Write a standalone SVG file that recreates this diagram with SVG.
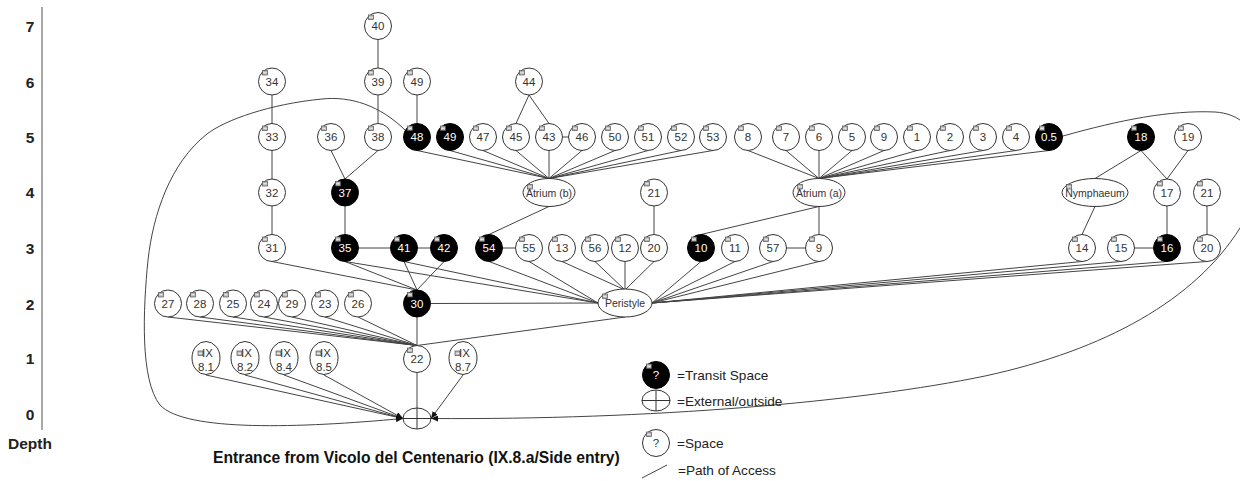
<svg xmlns="http://www.w3.org/2000/svg" xmlns:xlink="http://www.w3.org/1999/xlink" width="1240" height="481" viewBox="0 0 1240 481">
<style>
  .sp{fill:#fff;stroke:#333;stroke-width:1}
  .tr{fill:#000;stroke:#000;stroke-width:1}
  .lb{font-family:"Liberation Sans",Arial,sans-serif;font-size:11.5px;fill:#333;text-anchor:middle}
  .lw{font-family:"Liberation Sans",Arial,sans-serif;font-size:11.5px;fill:#fff;text-anchor:middle}
  .el{font-family:"Liberation Sans",Arial,sans-serif;font-size:10.5px;fill:#333;text-anchor:middle}
  .depth{font-family:"Liberation Sans",Arial,sans-serif;font-size:15.5px;font-weight:bold;fill:#222;text-anchor:middle}
  .leg{font-family:"Liberation Sans",Arial,sans-serif;font-size:13.6px;fill:#222}
  .title{font-family:"Liberation Sans",Arial,sans-serif;font-size:15.7px;font-weight:bold;fill:#111}
  .cn line,.cn path{stroke:#444;stroke-width:1;fill:none}
  .arr{marker-end:url(#ah)}
  .ext{fill:#fff;stroke:#333;stroke-width:1}
  .xl{stroke:#333;stroke-width:1}
</style>
<defs>
  <marker id="ah" markerUnits="userSpaceOnUse" markerWidth="8" markerHeight="6" refX="7" refY="3" orient="auto">
    <path d="M0,0 L7,3 L0,6 z" fill="#111"/>
  </marker>
  <!-- small collapse handle shown at the top-left of each node -->
  <g id="ic">
    <rect x="-9.5" y="-11" width="5" height="4.5" fill="#b8b8b8" stroke="#555" stroke-width="0.7"/>
    <line x1="-8.7" y1="-8.7" x2="-5.3" y2="-8.7" stroke="#fff" stroke-width="0.8"/>
  </g>
</defs>

<rect width="1240" height="481" fill="#fff"/>

<!-- depth axis -->
<g id="axis">
  <line x1="42" y1="7" x2="42" y2="430" stroke="#a8a8a8" stroke-width="2"/>
  <text class="depth" x="30" y="31.5">7</text>
  <text class="depth" x="30" y="87.5">6</text>
  <text class="depth" x="30" y="142.5">5</text>
  <text class="depth" x="30" y="198">4</text>
  <text class="depth" x="30" y="254">3</text>
  <text class="depth" x="30" y="310">2</text>
  <text class="depth" x="30" y="364">1</text>
  <text class="depth" x="30" y="420">0</text>
  <text class="depth" x="30" y="449">Depth</text>
</g>

<!-- paths of access -->
<g id="connectors" class="cn">
  <!-- vertical chains -->
  <line x1="378" y1="39.5" x2="378" y2="68"/>
  <line x1="378" y1="95" x2="378" y2="123.5"/>
  <line x1="272" y1="95" x2="272" y2="123.5"/>
  <line x1="272" y1="150.5" x2="272" y2="179"/>
  <line x1="272" y1="206" x2="272" y2="234.5"/>
  <line x1="417" y1="95" x2="417" y2="123.5"/>
  <line x1="529" y1="95" x2="516" y2="123.5"/>
  <line x1="529" y1="95" x2="549" y2="123.5"/>
  <line x1="562.5" y1="137" x2="568.5" y2="137"/>
  <line x1="378" y1="150.5" x2="345" y2="179"/>
  <line x1="331" y1="150.5" x2="345" y2="179"/>
  <line x1="345" y1="206" x2="345" y2="234.5"/>
  <line x1="358.5" y1="248" x2="390.5" y2="248"/>
  <line x1="417.5" y1="248" x2="430.5" y2="248"/>
  <!-- Atrium (b) fan -->
  <line x1="417" y1="150.5" x2="549" y2="178.5"/>
  <line x1="450" y1="150.5" x2="549" y2="178.5"/>
  <line x1="483" y1="150.5" x2="549" y2="178.5"/>
  <line x1="516" y1="150.5" x2="549" y2="178.5"/>
  <line x1="549" y1="150.5" x2="549" y2="178.5"/>
  <line x1="582" y1="150.5" x2="549" y2="178.5"/>
  <line x1="615" y1="150.5" x2="549" y2="178.5"/>
  <line x1="648" y1="150.5" x2="549" y2="178.5"/>
  <line x1="681" y1="150.5" x2="549" y2="178.5"/>
  <line x1="713" y1="150.5" x2="549" y2="178.5"/>
  <line x1="549" y1="206.5" x2="489" y2="234.5"/>
  <line x1="502.5" y1="248" x2="515.5" y2="248"/>
  <line x1="654" y1="206" x2="654" y2="234.5"/>
  <!-- Atrium (a) fan -->
  <line x1="748" y1="150.5" x2="819" y2="178.5"/>
  <line x1="786" y1="150.5" x2="819" y2="178.5"/>
  <line x1="819" y1="150.5" x2="819" y2="178.5"/>
  <line x1="852" y1="150.5" x2="819" y2="178.5"/>
  <line x1="884" y1="150.5" x2="819" y2="178.5"/>
  <line x1="917" y1="150.5" x2="819" y2="178.5"/>
  <line x1="950" y1="150.5" x2="819" y2="178.5"/>
  <line x1="983" y1="150.5" x2="819" y2="178.5"/>
  <line x1="1016" y1="150.5" x2="819" y2="178.5"/>
  <line x1="1049" y1="150.5" x2="819" y2="178.5"/>
  <line x1="819" y1="206.5" x2="819" y2="234.5"/>
  <line x1="819" y1="206.5" x2="701" y2="234.5"/>
  <line x1="786.5" y1="248" x2="805.5" y2="248"/>
  <!-- Nymphaeum wing -->
  <line x1="1141" y1="150.5" x2="1095" y2="178.5"/>
  <line x1="1141" y1="150.5" x2="1167" y2="179"/>
  <line x1="1188" y1="150.5" x2="1167" y2="179"/>
  <line x1="1095" y1="206.5" x2="1082" y2="234.5"/>
  <line x1="1167" y1="206" x2="1167" y2="234.5"/>
  <line x1="1207" y1="206" x2="1207" y2="234.5"/>
  <line x1="1134.5" y1="248" x2="1153.5" y2="248"/>
  <!-- Peristyle fan -->
  <line x1="489" y1="261.5" x2="598" y2="303"/>
  <line x1="529" y1="261.5" x2="598" y2="303"/>
  <line x1="562" y1="261.5" x2="623" y2="289"/>
  <line x1="595" y1="261.5" x2="624" y2="289"/>
  <line x1="625" y1="261.5" x2="625" y2="289"/>
  <line x1="654" y1="261.5" x2="626" y2="289"/>
  <line x1="701" y1="261.5" x2="652" y2="303"/>
  <line x1="735" y1="261.5" x2="652" y2="303"/>
  <line x1="773" y1="261.5" x2="652" y2="303"/>
  <line x1="819" y1="261.5" x2="652" y2="303"/>
  <line x1="1082" y1="261.5" x2="652" y2="303"/>
  <line x1="1121" y1="261.5" x2="652" y2="303"/>
  <line x1="1167" y1="261.5" x2="652" y2="303"/>
  <line x1="1207" y1="261.5" x2="652" y2="303"/>
  <line x1="430.5" y1="303.5" x2="598" y2="303"/>
  <line x1="345" y1="261.5" x2="598" y2="303"/>
  <line x1="404" y1="261.5" x2="598" y2="303"/>
  <line x1="625" y1="317" x2="417" y2="345.5"/>
  <!-- into 30 -->
  <line x1="272" y1="261.5" x2="417" y2="290"/>
  <line x1="345" y1="261.5" x2="417" y2="290"/>
  <line x1="404" y1="261.5" x2="417" y2="290"/>
  <line x1="444" y1="261.5" x2="417" y2="290"/>
  <!-- into 22 -->
  <line x1="168" y1="317" x2="417" y2="345.5"/>
  <line x1="200" y1="317" x2="417" y2="345.5"/>
  <line x1="233" y1="317" x2="417" y2="345.5"/>
  <line x1="264" y1="317" x2="417" y2="345.5"/>
  <line x1="292" y1="317" x2="417" y2="345.5"/>
  <line x1="325" y1="317" x2="417" y2="345.5"/>
  <line x1="358" y1="317" x2="417" y2="345.5"/>
  <line x1="417" y1="317" x2="417" y2="345.5"/>
  <line x1="417" y1="372.5" x2="417" y2="408"/>
  <!-- out to the street -->
  <line class="arr" x1="206" y1="375" x2="403" y2="418.5"/>
  <line class="arr" x1="245" y1="375" x2="403" y2="418.5"/>
  <line class="arr" x1="284" y1="375" x2="403" y2="418.5"/>
  <line class="arr" x1="324" y1="375" x2="403" y2="418.5"/>
  <line class="arr" x1="463" y1="375" x2="431" y2="418.5"/>
  <path class="arr" d="M406,131 C380,105 350,96 322,99 C270,104 225,120 207,134 C170,163 153,215 148,260 C143,310 140,380 160,405 C185,432 300,428 403,418.5"/>
  <path class="arr" d="M1063,136 C1120,120 1170,110 1215,112 C1265,115 1275,175 1240,228 C1195,300 1105,350 985,376 C860,402 650,420 431,418.5"/>
</g>

<!-- street / outside -->
<g id="n-ext">
  <ellipse class="ext" cx="417" cy="418.5" rx="14" ry="10.5"/>
  <line class="xl" x1="403" y1="418.5" x2="431" y2="418.5"/>
  <line class="xl" x1="417" y1="408" x2="417" y2="429"/>
</g>

<!-- depth 7 -->
<g id="n-40" transform="translate(378,26)"><circle class="sp" r="13.5"/><use href="#ic"/><text class="lb" y="4">40</text></g>
<!-- depth 6 -->
<g id="n-34" transform="translate(272,81.5)"><circle class="sp" r="13.5"/><use href="#ic"/><text class="lb" y="4">34</text></g>
<g id="n-39" transform="translate(378,81.5)"><circle class="sp" r="13.5"/><use href="#ic"/><text class="lb" y="4">39</text></g>
<g id="n-49-upper" transform="translate(417,81.5)"><circle class="sp" r="13.5"/><use href="#ic"/><text class="lb" y="4">49</text></g>
<g id="n-44" transform="translate(529,81.5)"><circle class="sp" r="13.5"/><use href="#ic"/><text class="lb" y="4">44</text></g>
<!-- depth 5 -->
<g id="n-33" transform="translate(272,137)"><circle class="sp" r="13.5"/><use href="#ic"/><text class="lb" y="4">33</text></g>
<g id="n-36" transform="translate(331,137)"><circle class="sp" r="13.5"/><use href="#ic"/><text class="lb" y="4">36</text></g>
<g id="n-38" transform="translate(378,137)"><circle class="sp" r="13.5"/><use href="#ic"/><text class="lb" y="4">38</text></g>
<g id="n-48" transform="translate(417,137)"><circle class="tr" r="13.5"/><use href="#ic"/><text class="lw" y="4">48</text></g>
<g id="n-49" transform="translate(450,137)"><circle class="tr" r="13.5"/><use href="#ic"/><text class="lw" y="4">49</text></g>
<g id="n-47" transform="translate(483,137)"><circle class="sp" r="13.5"/><use href="#ic"/><text class="lb" y="4">47</text></g>
<g id="n-45" transform="translate(516,137)"><circle class="sp" r="13.5"/><use href="#ic"/><text class="lb" y="4">45</text></g>
<g id="n-43" transform="translate(549,137)"><circle class="sp" r="13.5"/><use href="#ic"/><text class="lb" y="4">43</text></g>
<g id="n-46" transform="translate(582,137)"><circle class="sp" r="13.5"/><use href="#ic"/><text class="lb" y="4">46</text></g>
<g id="n-50" transform="translate(615,137)"><circle class="sp" r="13.5"/><use href="#ic"/><text class="lb" y="4">50</text></g>
<g id="n-51" transform="translate(648,137)"><circle class="sp" r="13.5"/><use href="#ic"/><text class="lb" y="4">51</text></g>
<g id="n-52" transform="translate(681,137)"><circle class="sp" r="13.5"/><use href="#ic"/><text class="lb" y="4">52</text></g>
<g id="n-53" transform="translate(713,137)"><circle class="sp" r="13.5"/><use href="#ic"/><text class="lb" y="4">53</text></g>
<g id="n-8" transform="translate(748,137)"><circle class="sp" r="13.5"/><use href="#ic"/><text class="lb" y="4">8</text></g>
<g id="n-7" transform="translate(786,137)"><circle class="sp" r="13.5"/><use href="#ic"/><text class="lb" y="4">7</text></g>
<g id="n-6" transform="translate(819,137)"><circle class="sp" r="13.5"/><use href="#ic"/><text class="lb" y="4">6</text></g>
<g id="n-5" transform="translate(852,137)"><circle class="sp" r="13.5"/><use href="#ic"/><text class="lb" y="4">5</text></g>
<g id="n-9-upper" transform="translate(884,137)"><circle class="sp" r="13.5"/><use href="#ic"/><text class="lb" y="4">9</text></g>
<g id="n-1" transform="translate(917,137)"><circle class="sp" r="13.5"/><use href="#ic"/><text class="lb" y="4">1</text></g>
<g id="n-2" transform="translate(950,137)"><circle class="sp" r="13.5"/><use href="#ic"/><text class="lb" y="4">2</text></g>
<g id="n-3" transform="translate(983,137)"><circle class="sp" r="13.5"/><use href="#ic"/><text class="lb" y="4">3</text></g>
<g id="n-4" transform="translate(1016,137)"><circle class="sp" r="13.5"/><use href="#ic"/><text class="lb" y="4">4</text></g>
<g id="n-0-5" transform="translate(1049,137)"><circle class="tr" r="13.5"/><use href="#ic"/><text class="lw" y="4">0.5</text></g>
<g id="n-18" transform="translate(1141,137)"><circle class="tr" r="13.5"/><use href="#ic"/><text class="lw" y="4">18</text></g>
<g id="n-19" transform="translate(1188,137)"><circle class="sp" r="13.5"/><use href="#ic"/><text class="lb" y="4">19</text></g>
<!-- depth 4 -->
<g id="n-32" transform="translate(272,192.5)"><circle class="sp" r="13.5"/><use href="#ic"/><text class="lb" y="4">32</text></g>
<g id="n-37" transform="translate(345,192.5)"><circle class="tr" r="13.5"/><use href="#ic"/><text class="lw" y="4">37</text></g>
<g id="n-atrium-b" transform="translate(549,192.5)"><ellipse class="sp" rx="26" ry="14"/><use href="#ic" x="-12" y="3"/><text class="el" y="4">Atrium (b)</text></g>
<g id="n-21-left" transform="translate(654,192.5)"><circle class="sp" r="13.5"/><use href="#ic"/><text class="lb" y="4">21</text></g>
<g id="n-atrium-a" transform="translate(819,192.5)"><ellipse class="sp" rx="26" ry="14"/><use href="#ic" x="-12" y="3"/><text class="el" y="4">Atrium (a)</text></g>
<g id="n-nymphaeum" transform="translate(1095,192.5)"><ellipse class="sp" rx="33" ry="14"/><use href="#ic" x="-19" y="3"/><text class="el" y="4">Nymphaeum</text></g>
<g id="n-17" transform="translate(1167,192.5)"><circle class="sp" r="13.5"/><use href="#ic"/><text class="lb" y="4">17</text></g>
<g id="n-21-right" transform="translate(1207,192.5)"><circle class="sp" r="13.5"/><use href="#ic"/><text class="lb" y="4">21</text></g>
<!-- depth 3 -->
<g id="n-31" transform="translate(272,248)"><circle class="sp" r="13.5"/><use href="#ic"/><text class="lb" y="4">31</text></g>
<g id="n-35" transform="translate(345,248)"><circle class="tr" r="13.5"/><use href="#ic"/><text class="lw" y="4">35</text></g>
<g id="n-41" transform="translate(404,248)"><circle class="tr" r="13.5"/><use href="#ic"/><text class="lw" y="4">41</text></g>
<g id="n-42" transform="translate(444,248)"><circle class="tr" r="13.5"/><use href="#ic"/><text class="lw" y="4">42</text></g>
<g id="n-54" transform="translate(489,248)"><circle class="tr" r="13.5"/><use href="#ic"/><text class="lw" y="4">54</text></g>
<g id="n-55" transform="translate(529,248)"><circle class="sp" r="13.5"/><use href="#ic"/><text class="lb" y="4">55</text></g>
<g id="n-13" transform="translate(562,248)"><circle class="sp" r="13.5"/><use href="#ic"/><text class="lb" y="4">13</text></g>
<g id="n-56" transform="translate(595,248)"><circle class="sp" r="13.5"/><use href="#ic"/><text class="lb" y="4">56</text></g>
<g id="n-12" transform="translate(625,248)"><circle class="sp" r="13.5"/><use href="#ic"/><text class="lb" y="4">12</text></g>
<g id="n-20-left" transform="translate(654,248)"><circle class="sp" r="13.5"/><use href="#ic"/><text class="lb" y="4">20</text></g>
<g id="n-10" transform="translate(701,248)"><circle class="tr" r="13.5"/><use href="#ic"/><text class="lw" y="4">10</text></g>
<g id="n-11" transform="translate(735,248)"><circle class="sp" r="13.5"/><use href="#ic"/><text class="lb" y="4">11</text></g>
<g id="n-57" transform="translate(773,248)"><circle class="sp" r="13.5"/><use href="#ic"/><text class="lb" y="4">57</text></g>
<g id="n-9" transform="translate(819,248)"><circle class="sp" r="13.5"/><use href="#ic"/><text class="lb" y="4">9</text></g>
<g id="n-14" transform="translate(1082,248)"><circle class="sp" r="13.5"/><use href="#ic"/><text class="lb" y="4">14</text></g>
<g id="n-15" transform="translate(1121,248)"><circle class="sp" r="13.5"/><use href="#ic"/><text class="lb" y="4">15</text></g>
<g id="n-16" transform="translate(1167,248)"><circle class="tr" r="13.5"/><use href="#ic"/><text class="lw" y="4">16</text></g>
<g id="n-20-right" transform="translate(1207,248)"><circle class="sp" r="13.5"/><use href="#ic"/><text class="lb" y="4">20</text></g>
<!-- depth 2 -->
<g id="n-27" transform="translate(168,303.5)"><circle class="sp" r="13.5"/><use href="#ic"/><text class="lb" y="4">27</text></g>
<g id="n-28" transform="translate(200,303.5)"><circle class="sp" r="13.5"/><use href="#ic"/><text class="lb" y="4">28</text></g>
<g id="n-25" transform="translate(233,303.5)"><circle class="sp" r="13.5"/><use href="#ic"/><text class="lb" y="4">25</text></g>
<g id="n-24" transform="translate(264,303.5)"><circle class="sp" r="13.5"/><use href="#ic"/><text class="lb" y="4">24</text></g>
<g id="n-29" transform="translate(292,303.5)"><circle class="sp" r="13.5"/><use href="#ic"/><text class="lb" y="4">29</text></g>
<g id="n-23" transform="translate(325,303.5)"><circle class="sp" r="13.5"/><use href="#ic"/><text class="lb" y="4">23</text></g>
<g id="n-26" transform="translate(358,303.5)"><circle class="sp" r="13.5"/><use href="#ic"/><text class="lb" y="4">26</text></g>
<g id="n-30" transform="translate(417,303.5)"><circle class="tr" r="13.5"/><use href="#ic"/><text class="lw" y="4">30</text></g>
<g id="n-peristyle" transform="translate(625,303)"><ellipse class="sp" rx="27" ry="14"/><use href="#ic" x="-13" y="2"/><text class="el" y="4">Peristyle</text></g>
<!-- depth 1 -->
<g id="n-ix-8-1" transform="translate(206,358)"><ellipse class="sp" rx="14" ry="16.5"/><use href="#ic" x="1.5" y="4"/><text class="lb" x="1.5" y="-1">IX</text><text class="lb" y="13">8.1</text></g>
<g id="n-ix-8-2" transform="translate(245,358)"><ellipse class="sp" rx="14" ry="16.5"/><use href="#ic" x="1.5" y="4"/><text class="lb" x="1.5" y="-1">IX</text><text class="lb" y="13">8.2</text></g>
<g id="n-ix-8-4" transform="translate(284,358)"><ellipse class="sp" rx="14" ry="16.5"/><use href="#ic" x="1.5" y="4"/><text class="lb" x="1.5" y="-1">IX</text><text class="lb" y="13">8.4</text></g>
<g id="n-ix-8-5" transform="translate(324,358)"><ellipse class="sp" rx="14" ry="16.5"/><use href="#ic" x="1.5" y="4"/><text class="lb" x="1.5" y="-1">IX</text><text class="lb" y="13">8.5</text></g>
<g id="n-22" transform="translate(417,359)"><circle class="sp" r="13.5"/><use href="#ic"/><text class="lb" y="4">22</text></g>
<g id="n-ix-8-7" transform="translate(463,358)"><ellipse class="sp" rx="14" ry="16.5"/><use href="#ic" x="1.5" y="4"/><text class="lb" x="1.5" y="-1">IX</text><text class="lb" y="13">8.7</text></g>

<!-- title -->
<text class="title" x="213" y="463">Entrance from Vicolo del Centenario (IX.8.a/Side entry)</text>

<!-- legend -->
<g id="legend">
  <g transform="translate(656,375)"><circle class="tr" r="13.5"/><use href="#ic"/><text class="lw" y="4">?</text></g>
  <text class="leg" x="677" y="379.5">=Transit Space</text>
  <ellipse class="ext" cx="656" cy="400.5" rx="14" ry="10.5"/>
  <line class="xl" x1="642" y1="400.5" x2="670" y2="400.5"/>
  <line class="xl" x1="656" y1="390" x2="656" y2="411"/>
  <text class="leg" x="677" y="405.5">=External/outside</text>
  <g transform="translate(656,443)"><circle class="sp" r="13.5"/><use href="#ic"/><text class="lb" y="4">?</text></g>
  <text class="leg" x="677" y="448">=Space</text>
  <line x1="642" y1="478" x2="667" y2="465" stroke="#444" stroke-width="1"/>
  <text class="leg" x="678" y="475">=Path of Access</text>
</g>
</svg>
